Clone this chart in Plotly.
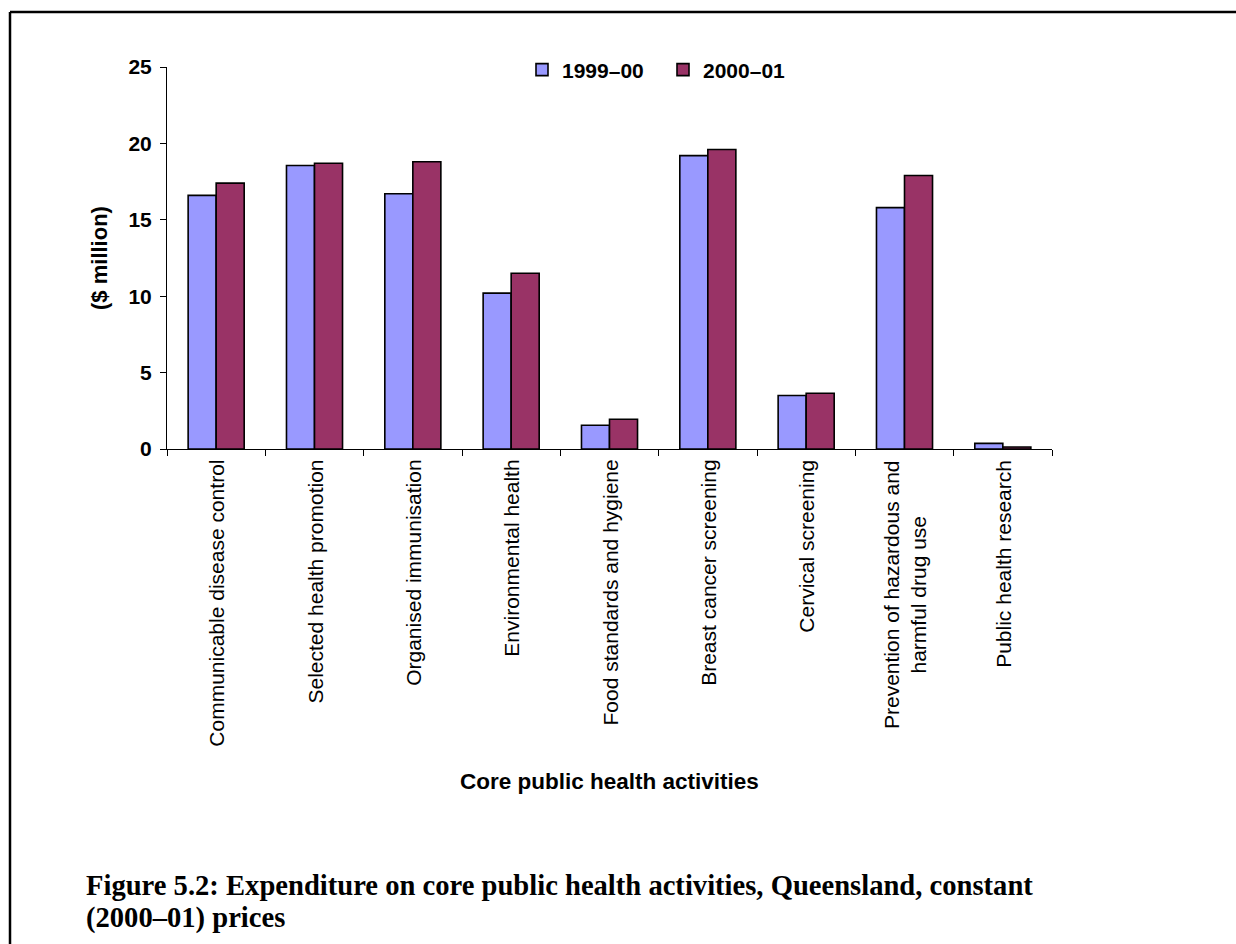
import plotly.graph_objects as go

# Core public health activities, Queensland ($ million, constant 2000-01 prices)
categories = [
    "Communicable disease control",
    "Selected health promotion",
    "Organised immunisation",
    "Environmental health",
    "Food standards and hygiene",
    "Breast cancer screening",
    "Cervical screening",
    "Prevention of hazardous and<br>harmful drug use",
    "Public health research",
]
spend_1999_00 = [16.6, 18.55, 16.7, 10.2, 1.55, 19.2, 3.5, 15.8, 0.37]
spend_2000_01 = [17.4, 18.7, 18.8, 11.5, 1.95, 19.6, 3.65, 17.9, 0.13]
series_names = ["1999\u201300", "2000\u201301"]
y_ticks = [0, 5, 10, 15, 20, 25]
caption_lines = [
    "Figure 5.2: Expenditure on core public health activities, Queensland, constant",
    "(2000\u201301) prices",
]

SANS = "Liberation Sans, Arial, sans-serif"
SERIF = "Liberation Serif, Times New Roman, serif"

W, H = 1236, 944
L, R, T, B = 167, 1052, 67, 449  # plot area in pixels


def px(x):
    return (x - L) / (R - L)


def py(y):
    return (B - y) / (B - T)


fig = go.Figure()
fig.add_bar(
    x=categories, y=spend_1999_00, name=series_names[0],
    marker=dict(color="#9999FF", line=dict(color="black", width=1.6)),
)
fig.add_bar(
    x=categories, y=spend_2000_01, name=series_names[1],
    marker=dict(color="#993366", line=dict(color="black", width=1.6)),
)

# rotated category labels hanging below the axis
annotations = []
for c in categories:
    annotations.append(dict(
        x=c, xref="x", y=0, yref="y", yanchor="top", xanchor="center",
        yshift=-9, text=c, textangle=-90, align="center", showarrow=False,
        font=dict(family=SANS, size=21, color="black"),
    ))

annotations.append(dict(
    x=0.5, xref="paper", y=py(781), yref="paper", xanchor="center", yanchor="middle",
    text="<b>Core public health activities</b>", showarrow=False,
    font=dict(family=SANS, size=22.5, color="black"),
))

# two-line figure caption
for line, base_y in zip(caption_lines, [885, 918]):
    annotations.append(dict(
        x=px(84), xref="paper", y=py(base_y), yref="paper", xanchor="left", yanchor="middle",
        text=f"<b>{line}</b>", align="left", showarrow=False,
        font=dict(family=SERIF, size=28.6, color="black"),
    ))

# page frame: top and left rules
shapes = [
    dict(type="line", xref="paper", yref="paper", x0=px(10), x1=px(W + 5), y0=py(12), y1=py(12),
         line=dict(color="black", width=2.5)),
    dict(type="line", xref="paper", yref="paper", x0=px(10), x1=px(10), y0=py(12), y1=py(H + 5),
         line=dict(color="black", width=2.5)),
]

fig.update_layout(
    width=W, height=H,
    margin=dict(l=L, r=W - R, t=T, b=H - B, pad=0),
    paper_bgcolor="white", plot_bgcolor="white",
    barmode="group", bargap=0.43, bargroupgap=0,
    showlegend=True,
    legend=dict(
        orientation="h", x=px(522), xanchor="left", y=py(70), yanchor="middle",
        font=dict(family=SANS, size=21, color="black", weight="bold"),
        bgcolor="rgba(0,0,0,0)", itemclick=False, entrywidth=96,
    ),
    xaxis=dict(
        type="category", showline=True, linecolor="black", linewidth=1,
        ticks="outside", tickson="boundaries", ticklen=6, tickcolor="black",
        showticklabels=False, showgrid=False, zeroline=False,
    ),
    yaxis=dict(
        range=[0, 25], tickvals=y_ticks, showline=True, linecolor="black", linewidth=1,
        ticks="outside", ticklen=6, tickcolor="black", showgrid=False, zeroline=False,
        ticklabelstandoff=4,
        tickfont=dict(family=SANS, size=21, color="black", weight="bold"),
        title=dict(text="<b>($ million)</b>", standoff=14,
                   font=dict(family=SANS, size=22, color="black")),
    ),
    annotations=annotations,
    shapes=shapes,
)

fig.write_html("out.html")
